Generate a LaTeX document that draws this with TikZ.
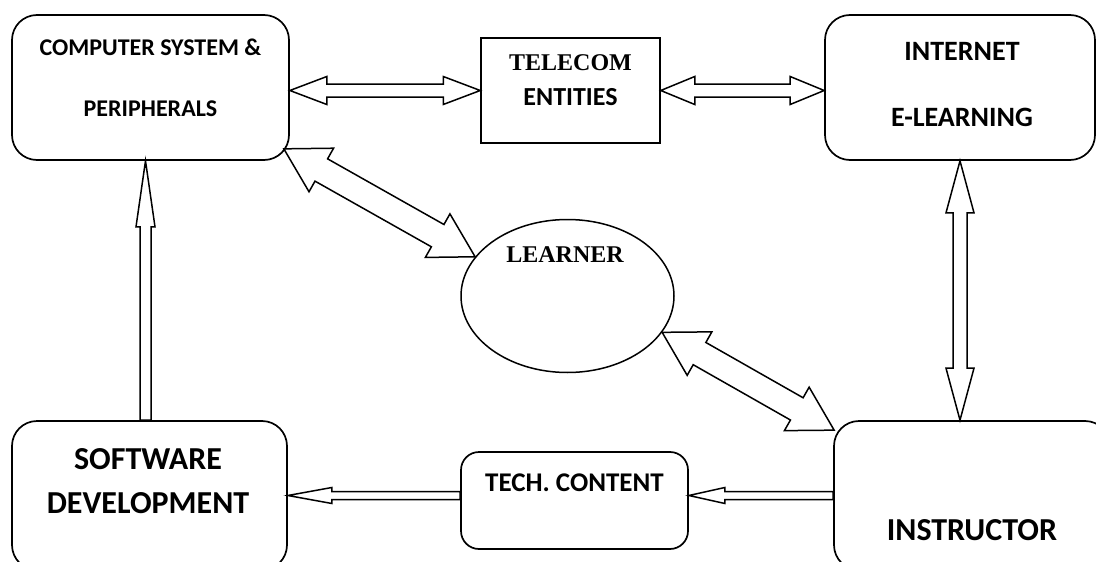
\documentclass[tikz,border=0pt]{standalone}
\usepackage{fontspec}
\setmainfont{Carlito}
\newfontfamily\tnr{Liberation Serif}
\usetikzlibrary{shapes.geometric,calc}

\tikzset{
  box/.style={draw, line width=1.7pt, rounded corners=25pt, inner sep=0pt},
  plainbox/.style={draw, line width=1.5pt, inner sep=0pt},
  blob/.style={draw, ellipse, line width=1.5pt, inner sep=0pt},
  lbl/.style={align=center, inner sep=0pt, font=\bfseries\fontsize{24}{28}\selectfont},
  midlbl/.style={align=center, inner sep=0pt, font=\bfseries\fontsize{28}{33}\selectfont},
  biglbl/.style={align=center, inner sep=0pt, font=\bfseries\fontsize{32}{38}\selectfont},
  blockarrow/.style={draw, line width=1.5pt, fill=white}
}

% from, to, shaft half width, head half width, head length
\newcommand{\twoway}[5]{%
  \coordinate (ha) at ($(#1)!#5!(#2)$);
  \coordinate (hb) at ($(#2)!#5!(#1)$);
  \draw[blockarrow] (#1) -- ($(ha)!#4!90:(#2)$) -- ($(ha)!#3!90:(#2)$)
    -- ($(hb)!#3!-90:(#1)$) -- ($(hb)!#4!-90:(#1)$) -- (#2)
    -- ($(hb)!#4!90:(#1)$) -- ($(hb)!#3!90:(#1)$)
    -- ($(ha)!#3!-90:(#2)$) -- ($(ha)!#4!-90:(#2)$) -- cycle;}
\newcommand{\oneway}[5]{%
  \coordinate (hb) at ($(#2)!#5!(#1)$);
  \draw[blockarrow] ($(#1)!#3!90:(#2)$) -- ($(hb)!#3!-90:(#1)$)
    -- ($(hb)!#4!-90:(#1)$) -- (#2) -- ($(hb)!#4!90:(#1)$)
    -- ($(hb)!#3!90:(#1)$) -- ($(#1)!#3!-90:(#2)$) -- cycle;}

\begin{document}
\begin{tikzpicture}[x=1pt,y=-1pt]
\useasboundingbox (0,0) rectangle (1096,562);
\node[box, minimum width=277pt, minimum height=145pt] (comp) at (150.5,87.5) {};
\node[plainbox, minimum width=179pt, minimum height=105pt] (tele) at (570.5,90.5) {};
\node[box, minimum width=270pt, minimum height=145pt] (inet) at (960,87.5) {};
\node[blob, minimum width=213pt, minimum height=153pt] (lrn) at (567.5,296) {};
\node[box, minimum width=275pt, minimum height=149pt] (soft) at (149.5,495.5) {};
\node[box, rounded corners=18pt, minimum width=227pt, minimum height=97pt] (tech) at (574.5,500.5) {};
\node[box, minimum width=276pt, minimum height=149pt] (instr) at (972,495.5) {};

\node[lbl] (compT) at ($(comp.center)+(0,-10)$) {COMPUTER SYSTEM \&\\[33pt]PERIPHERALS};
\node[lbl, font=\bfseries\fontsize{26}{30}\selectfont] (teleT) at ($(tele.center)+(0,-10)$) {{\tnr\fontsize{24}{28}\selectfont TELECOM}\\[5pt]ENTITIES};
\node[midlbl] (inetT) at ($(inet.center)+(2,-2.5)$) {INTERNET\\[33pt]E-LEARNING};
\node[lbl, font=\tnr\bfseries\fontsize{24}{28}\selectfont] (lrnT) at ($(lrn.center)+(-2.5,-41)$) {LEARNER};
\node[biglbl] (softT) at ($(soft.center)+(-1.5,-14.5)$) {SOFTWARE\\[6pt]DEVELOPMENT};
\node[lbl, font=\bfseries\fontsize{27}{32}\selectfont] (techT) at ($(tech.center)+(0,-17.5)$) {TECH. CONTENT};
\node[biglbl] (instrT) at ($(instr.center)+(0,34.5)$) {INSTRUCTOR};

\coordinate (ctA) at (tele.west -| comp.east);
\coordinate (tiA) at (tele.east -| inet.west);
\coordinate (clA) at ($(comp.south east)+(-6,-12)$);
\coordinate (liA) at ($(instr.north west)+(1,10)$);
\coordinate (iiA) at (inet.south |- instr.north);
\coordinate (scA) at ($(soft.north)+(-4,0)$);
\coordinate (scB) at (scA |- comp.south);
\coordinate (itA) at (instr.west -| tech.east);
\coordinate (tsA) at (tech.west |- instr.west);
\coordinate (tsB) at (soft.east |- instr.west);

\twoway{ctA}{tele.west}{6.5pt}{14pt}{37pt}
\twoway{tele.east}{tiA}{6.5pt}{14pt}{34pt}
\twoway{clA}{lrn.157}{12.8pt}{25pt}{43pt}
\twoway{lrn.-21}{liA}{12.8pt}{25pt}{43pt}
\twoway{inet.south}{iiA}{7pt}{14pt}{52pt}
\oneway{scA}{scB}{5.5pt}{9.5pt}{66pt}
\oneway{instr.west}{itA}{4pt}{8pt}{36pt}
\oneway{tsA}{tsB}{4pt}{8pt}{44pt}
\end{tikzpicture}
\end{document}
